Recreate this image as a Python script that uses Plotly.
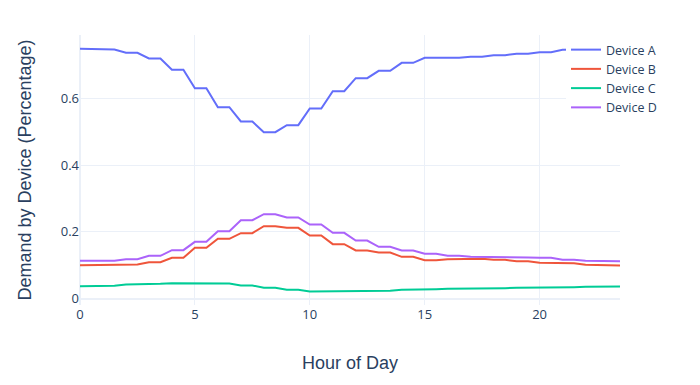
import plotly.graph_objects as go

hours = [0, 0.5, 1, 1.5, 2, 2.5, 3, 3.5, 4, 4.5, 5, 5.5, 6, 6.5, 7, 7.5,
         8, 8.5, 9, 9.5, 10, 10.5, 11, 11.5, 12, 12.5, 13, 13.5, 14, 14.5, 15, 15.5,
         16, 16.5, 17, 17.5, 18, 18.5, 19, 19.5, 20, 20.5, 21, 21.5, 22, 22.5, 23, 23.5]

device_a = [0.749, 0.749, 0.747, 0.747, 0.737, 0.737, 0.720, 0.720, 0.686, 0.686,
            0.631, 0.631, 0.574, 0.574, 0.531, 0.531, 0.499, 0.499, 0.520, 0.520,
            0.570, 0.570, 0.622, 0.622, 0.661, 0.661, 0.683, 0.683, 0.707, 0.707,
            0.722, 0.722, 0.722, 0.722, 0.725, 0.725, 0.730, 0.730, 0.734, 0.734,
            0.739, 0.739, 0.746, 0.746, 0.748, 0.748, 0.750, 0.750]
device_b = [0.100, 0.100, 0.100, 0.100, 0.102, 0.102, 0.109, 0.109, 0.122, 0.122,
            0.152, 0.152, 0.179, 0.179, 0.196, 0.196, 0.217, 0.217, 0.212, 0.212,
            0.189, 0.189, 0.163, 0.163, 0.144, 0.144, 0.138, 0.138, 0.125, 0.125,
            0.115, 0.115, 0.118, 0.118, 0.119, 0.119, 0.116, 0.116, 0.112, 0.112,
            0.107, 0.107, 0.106, 0.106, 0.101, 0.101, 0.099, 0.099]
device_c = [0.037, 0.037, 0.038, 0.038, 0.042, 0.042, 0.044, 0.044, 0.046, 0.046,
            0.046, 0.046, 0.045, 0.045, 0.039, 0.039, 0.032, 0.032, 0.026, 0.026,
            0.021, 0.021, 0.021, 0.021, 0.022, 0.022, 0.023, 0.023, 0.026, 0.026,
            0.028, 0.028, 0.029, 0.029, 0.030, 0.030, 0.031, 0.031, 0.032, 0.032,
            0.033, 0.033, 0.034, 0.034, 0.035, 0.035, 0.036, 0.036]
device_d = [0.113, 0.113, 0.113, 0.113, 0.118, 0.118, 0.128, 0.128, 0.145, 0.145,
            0.170, 0.170, 0.202, 0.202, 0.235, 0.235, 0.253, 0.253, 0.243, 0.243,
            0.222, 0.222, 0.197, 0.197, 0.174, 0.174, 0.155, 0.155, 0.144, 0.144,
            0.134, 0.134, 0.128, 0.128, 0.125, 0.125, 0.124, 0.124, 0.123, 0.123,
            0.122, 0.122, 0.116, 0.116, 0.113, 0.113, 0.112, 0.112]

series_names = ["Device A", "Device B", "Device C", "Device D"]
series_values = [device_a, device_b, device_c, device_d]

fig = go.Figure()
for name, vals in zip(series_names, series_values):
    fig.add_trace(go.Scatter(x=hours, y=vals, mode="lines", name=name))

title_font = dict(family="Liberation Sans, Arial, sans-serif", size=18, color="#2a3f5f")
fig.update_layout(
    template="plotly_white",
    width=700, height=385,
    font=dict(size=13),
    margin=dict(l=72, r=88, t=27, b=88),
    legend=dict(x=0.9, y=1, font=dict(size=12.5)),
    xaxis=dict(automargin=False,
               title=dict(text="Hour of Day", font=title_font, standoff=34)),
    yaxis=dict(automargin=False,
               title=dict(text="Demand by Device (Percentage)", font=title_font, standoff=24)),
)
fig.write_html("out.html")
